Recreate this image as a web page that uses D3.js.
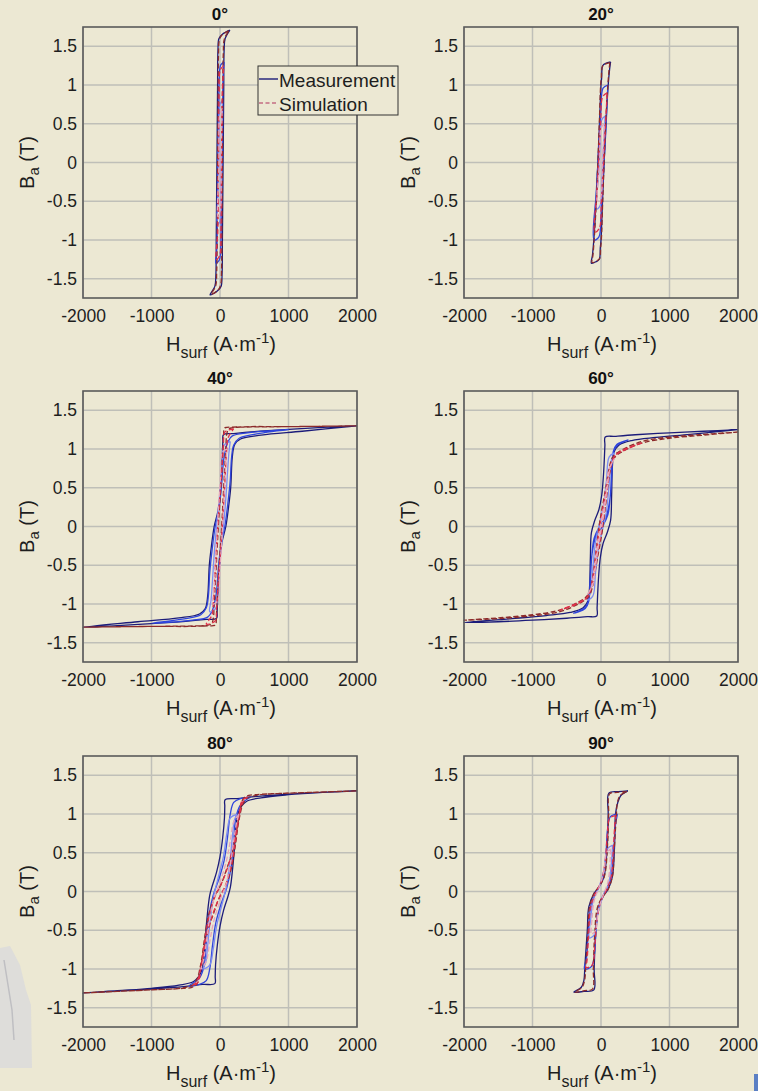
<!DOCTYPE html>
<html>
<head>
<meta charset="utf-8">
<script src="https://cdn.jsdelivr.net/npm/d3@7"></script>
<style>
  html, body { margin: 0; padding: 0; background: #ece8d3; }
  svg { display: block; font-family: "Liberation Sans", Arial, sans-serif; }
</style>
</head>
<body>
<svg id="fig" width="758" height="1091"></svg>
<script>
// ---- panel titles, axis ticks and domains ----
const angles = ["0°", "20°", "40°", "60°", "80°", "90°"];
const xTicks = [-2000, -1000, 0, 1000, 2000];
const yTicks = [-1.5, -1, -0.5, 0, 0.5, 1, 1.5];
const hDomain = [-2000, 2000];
const bDomain = [-1.75, 1.75];
const legendLabels = ["Measurement", "Simulation"];

// ---- hysteresis loops, [H (A/m), B (T)], each loop closed ----
// 0°
const meas0 = [
  [[145,1.71],[40,1.66],[-15,1.60],[-30,1.45],[-35,1.0],[-40,0.5],[-45,0],[-50,-0.5],[-55,-1.0],[-60,-1.45],[-75,-1.60],[-145,-1.71],
   [-40,-1.66],[15,-1.60],[30,-1.45],[35,-1.0],[40,-0.5],[45,0],[50,0.5],[55,1.0],[60,1.45],[75,1.60],[145,1.71]],
  [[60,1.30],[10,1.26],[-10,1.1],[-20,0.5],[-30,0],[-38,-0.5],[-45,-1.1],[-60,-1.30],
   [-10,-1.26],[10,-1.1],[20,-0.5],[30,0],[38,0.5],[45,1.1],[60,1.30]],
  [[35,0.80],[0,0.75],[-15,0.3],[-22,-0.3],[-35,-0.80],[0,-0.75],[15,-0.3],[22,0.3],[35,0.80]]
];
const sim0 = [
  [[130,1.70],[30,1.65],[-10,1.58],[-22,1.4],[-28,0.8],[-34,0],[-40,-0.8],[-48,-1.4],[-65,-1.6],[-130,-1.70],
   [-30,-1.65],[10,-1.58],[22,-1.4],[28,-0.8],[34,0],[40,0.8],[48,1.4],[65,1.6],[130,1.70]],
  [[55,1.25],[5,1.2],[-12,0.9],[-22,0],[-32,-0.9],[-55,-1.25],[-5,-1.2],[12,-0.9],[22,0],[32,0.9],[55,1.25]],
  [[30,0.7],[-5,0.6],[-15,0],[-30,-0.7],[5,-0.6],[15,0],[30,0.7]]
];
// 20°
const meas20 = [
  [[140,1.30],[70,1.28],[25,1.25],[10,1.1],[0,1.0],[-22,0.5],[-45,0],[-72,-0.5],[-105,-1.0],[-125,-1.2],[-140,-1.30],
   [-70,-1.28],[-25,-1.25],[-10,-1.1],[0,-1.0],[22,-0.5],[45,0],[72,0.5],[105,1.0],[125,1.2],[140,1.30]],
  [[100,1.0],[30,0.96],[0,0.7],[-25,0.3],[-45,0],[-70,-0.4],[-100,-1.0],
   [-30,-0.96],[0,-0.7],[25,-0.3],[45,0],[70,0.4],[100,1.0]],
  [[60,0.6],[10,0.55],[-15,0.2],[-30,-0.1],[-60,-0.6],[-10,-0.55],[15,-0.2],[30,0.1],[60,0.6]]
];
const sim20 = [
  [[130,1.29],[60,1.27],[20,1.24],[5,1.1],[-5,1.0],[-25,0.5],[-45,0],[-68,-0.5],[-100,-1.0],[-118,-1.2],[-130,-1.29],
   [-60,-1.27],[-20,-1.24],[-5,-1.1],[5,-1.0],[25,-0.5],[45,0],[68,0.5],[100,1.0],[118,1.2],[130,1.29]],
  [[90,0.9],[25,0.85],[-5,0.5],[-35,0],[-60,-0.4],[-90,-0.9],[-25,-0.85],[5,-0.5],[35,0],[60,0.4],[90,0.9]],
  [[50,0.5],[5,0.45],[-20,0],[-50,-0.5],[-5,-0.45],[20,0],[50,0.5]]
];
// 40°
const meas40 = [
  [[2000,1.30],[1500,1.28],[1000,1.255],[500,1.225],[200,1.20],[50,1.185],[42,1.10],[32,0.9],[10,0.5],[-30,0.2],[-85,0],[-125,-0.25],[-156,-0.5],[-180,-0.9],[-215,-1.06],[-300,-1.13],[-600,-1.18],[-1200,-1.23],[-2000,-1.30],
   [-1500,-1.28],[-1000,-1.255],[-500,-1.225],[-200,-1.20],[-50,-1.185],[-42,-1.10],[-32,-0.9],[-10,-0.5],[30,-0.2],[85,0],[125,0.25],[156,0.5],[180,0.9],[215,1.06],[300,1.13],[600,1.18],[1200,1.23],[2000,1.30]],
  [[1000,1.25],[400,1.21],[180,1.17],[120,1.1],[60,0.9],[20,0.5],[-20,0.2],[-70,0],[-115,-0.3],[-150,-0.6],[-170,-0.9],[-200,-1.05],[-280,-1.14],[-500,-1.19],[-1000,-1.25],
   [-400,-1.21],[-180,-1.17],[-120,-1.1],[-60,-0.9],[-20,-0.5],[20,-0.2],[70,0],[115,0.3],[150,0.6],[170,0.9],[200,1.05],[280,1.14],[500,1.19],[1000,1.25]],
  [[150,1.1],[60,1.05],[30,0.8],[0,0.45],[-40,0.1],[-80,-0.3],[-110,-0.7],[-130,-0.95],[-150,-1.1],
   [-60,-1.05],[-30,-0.8],[0,-0.45],[40,-0.1],[80,0.3],[110,0.7],[130,0.95],[150,1.1]]
];
const sim40 = [
  [[2000,1.30],[1000,1.29],[400,1.285],[100,1.28],[65,1.27],[52,1.15],[38,0.9],[12,0.5],[-18,0.1],[-42,-0.3],[-66,-0.7],[-85,-1.0],[-100,-1.2],[-130,-1.26],[-300,-1.285],[-1000,-1.29],[-2000,-1.30],
   [-1000,-1.29],[-400,-1.285],[-100,-1.28],[-65,-1.27],[-52,-1.15],[-38,-0.9],[-12,-0.5],[18,-0.1],[42,0.3],[66,0.7],[85,1.0],[100,1.2],[130,1.26],[300,1.285],[1000,1.29],[2000,1.30]],
  [[200,1.26],[70,1.22],[50,1.05],[25,0.7],[-10,0.3],[-40,-0.1],[-70,-0.55],[-95,-0.95],[-120,-1.15],[-200,-1.26],
   [-70,-1.22],[-50,-1.05],[-25,-0.7],[10,-0.3],[40,0.1],[70,0.55],[95,0.95],[120,1.15],[200,1.26]],
  [[100,1.0],[30,0.95],[5,0.6],[-25,0.2],[-55,-0.3],[-80,-0.75],[-100,-1.0],
   [-30,-0.95],[-5,-0.6],[25,-0.2],[55,0.3],[80,0.75],[100,1.0]]
];
// 60°
const meas60 = [
  [[2000,1.25],[1500,1.23],[1000,1.21],[500,1.185],[200,1.165],[62,1.155],[57,1.05],[50,0.9],[35,0.65],[10,0.4],[-30,0.22],[-90,0.08],[-140,-0.08],[-155,-0.4],[-168,-0.8],[-190,-0.96],[-260,-1.05],[-450,-1.11],[-800,-1.15],[-1300,-1.19],[-2000,-1.24],
   [-1500,-1.23],[-1000,-1.21],[-500,-1.185],[-200,-1.165],[-62,-1.155],[-57,-1.05],[-50,-0.9],[-35,-0.65],[-10,-0.4],[30,-0.22],[90,-0.08],[140,0.08],[155,0.4],[168,0.8],[190,0.96],[260,1.05],[450,1.11],[800,1.15],[1300,1.19],[2000,1.25]],
  [[400,1.12],[230,1.06],[180,0.97],[160,0.7],[130,0.35],[70,0.12],[-20,0.0],[-100,-0.15],[-140,-0.45],[-160,-0.8],[-190,-0.98],[-250,-1.06],[-400,-1.12],
   [-230,-1.06],[-180,-0.97],[-160,-0.7],[-130,-0.35],[-70,-0.12],[20,0.0],[100,0.15],[140,0.45],[160,0.8],[190,0.98],[250,1.06],[400,1.12]],
  [[200,0.95],[120,0.9],[80,0.6],[40,0.3],[-20,0.05],[-80,-0.2],[-120,-0.55],[-150,-0.85],[-200,-0.95],
   [-120,-0.9],[-80,-0.6],[-40,-0.3],[20,-0.05],[80,0.2],[120,0.55],[150,0.85],[200,0.95]]
];
const sim60 = [
  [[2000,1.22],[1500,1.19],[1000,1.155],[700,1.12],[500,1.07],[350,1.01],[250,0.96],[180,0.91],[130,0.8],[80,0.55],[30,0.3],[-20,0.05],[-70,-0.3],[-120,-0.65],[-170,-0.85],[-230,-0.92],[-320,-0.97],[-450,-1.03],[-650,-1.09],[-1000,-1.14],[-1500,-1.18],[-2000,-1.21],
   [-1500,-1.19],[-1000,-1.155],[-700,-1.12],[-500,-1.07],[-350,-1.01],[-250,-0.96],[-180,-0.91],[-130,-0.8],[-80,-0.55],[-30,-0.3],[20,-0.05],[70,0.3],[120,0.65],[170,0.85],[230,0.92],[320,0.97],[450,1.03],[650,1.09],[1000,1.14],[1500,1.18],[2000,1.22]],
  [[600,1.08],[350,1.0],[220,0.93],[150,0.82],[100,0.6],[50,0.35],[0,0.1],[-50,-0.2],[-100,-0.55],[-150,-0.8],[-210,-0.92],[-350,-0.99],[-600,-1.08],
   [-350,-1.0],[-220,-0.93],[-150,-0.82],[-100,-0.6],[-50,-0.35],[0,-0.1],[50,0.2],[100,0.55],[150,0.8],[210,0.92],[350,0.99],[600,1.08]],
  [[200,0.88],[120,0.75],[70,0.45],[20,0.15],[-40,-0.15],[-90,-0.5],[-140,-0.78],[-200,-0.88],
   [-120,-0.75],[-70,-0.45],[-20,-0.15],[40,0.15],[90,0.5],[140,0.78],[200,0.88]]
];
// 80°
const meas80 = [
  [[2000,1.30],[1500,1.28],[1000,1.257],[500,1.225],[250,1.20],[75,1.185],[70,1.1],[65,0.95],[40,0.7],[0,0.45],[-50,0.25],[-110,0.08],[-150,-0.05],[-185,-0.3],[-215,-0.6],[-240,-0.9],[-280,-1.05],[-380,-1.16],[-600,-1.21],[-1000,-1.25],[-1500,-1.28],[-2000,-1.31],
   [-1500,-1.285],[-1000,-1.26],[-500,-1.225],[-250,-1.20],[-75,-1.19],[-70,-1.1],[-65,-0.95],[-40,-0.7],[0,-0.45],[50,-0.25],[110,-0.08],[150,0.05],[185,0.3],[215,0.6],[240,0.9],[280,1.05],[380,1.16],[600,1.21],[1000,1.25],[1500,1.28],[2000,1.30]],
  [[450,1.22],[300,1.2],[200,1.15],[150,1.0],[110,0.7],[60,0.4],[-20,0.15],[-100,-0.05],[-160,-0.3],[-200,-0.65],[-230,-0.95],[-300,-1.12],[-450,-1.22],
   [-300,-1.2],[-200,-1.15],[-150,-1.0],[-110,-0.7],[-60,-0.4],[20,-0.15],[100,0.05],[160,0.3],[200,0.65],[230,0.95],[300,1.12],[450,1.22]],
  [[250,1.0],[150,0.95],[100,0.75],[50,0.45],[-20,0.2],[-90,-0.05],[-140,-0.35],[-180,-0.7],[-210,-0.92],[-250,-1.0],
   [-150,-0.95],[-100,-0.75],[-50,-0.45],[20,-0.2],[90,0.05],[140,0.35],[180,0.7],[210,0.92],[250,1.0]]
];
const sim80 = [
  [[2000,1.30],[1500,1.285],[1000,1.27],[600,1.255],[420,1.24],[340,1.2],[305,1.1],[275,0.95],[230,0.72],[170,0.47],[100,0.3],[20,0.1],[-70,-0.05],[-160,-0.28],[-225,-0.6],[-265,-0.86],[-295,-1.0],[-330,-1.12],[-390,-1.2],[-550,-1.245],[-1000,-1.27],[-1500,-1.29],[-2000,-1.31],
   [-1500,-1.29],[-1000,-1.27],[-600,-1.255],[-420,-1.24],[-340,-1.2],[-305,-1.1],[-275,-0.95],[-230,-0.72],[-170,-0.47],[-100,-0.3],[-20,-0.1],[70,0.05],[160,0.28],[225,0.6],[265,0.86],[295,1.0],[330,1.12],[390,1.2],[550,1.245],[1000,1.27],[1500,1.285],[2000,1.30]],
  [[400,1.22],[320,1.17],[280,1.0],[230,0.75],[170,0.5],[100,0.28],[10,0.08],[-80,-0.08],[-160,-0.32],[-220,-0.62],[-260,-0.88],[-290,-1.02],[-330,-1.15],[-400,-1.22],
   [-320,-1.17],[-280,-1.0],[-230,-0.75],[-170,-0.5],[-100,-0.28],[-10,-0.08],[80,0.08],[160,0.32],[220,0.62],[260,0.88],[290,1.02],[330,1.15],[400,1.22]],
  [[280,1.0],[200,0.9],[150,0.65],[90,0.38],[0,0.12],[-90,-0.1],[-160,-0.4],[-210,-0.72],[-250,-0.92],[-280,-1.0],
   [-200,-0.9],[-150,-0.65],[-90,-0.38],[0,-0.12],[90,0.1],[160,0.4],[210,0.72],[250,0.92],[280,1.0]]
];
// 90°
const meas90 = [
  [[392,1.30],[250,1.29],[115,1.27],[105,1.0],[90,0.57],[40,0.18],[-40,0.05],[-105,-0.03],[-178,-0.2],[-200,-0.5],[-236,-0.97],[-250,-1.15],[-290,-1.24],[-397,-1.30],
   [-250,-1.29],[-105,-1.27],[-100,-1.0],[-80,-0.59],[-32,-0.2],[40,-0.05],[90,0.01],[163,0.18],[197,0.57],[212,1.0],[245,1.15],[290,1.24],[392,1.30]],
  [[240,1.0],[140,0.97],[95,0.8],[70,0.45],[20,0.15],[-60,0.0],[-140,-0.15],[-180,-0.45],[-210,-0.85],[-240,-1.0],
   [-140,-0.97],[-95,-0.8],[-70,-0.45],[-20,-0.15],[60,0.0],[140,0.15],[180,0.45],[210,0.85],[240,1.0]],
  [[170,0.6],[90,0.55],[50,0.3],[-20,0.08],[-110,-0.1],[-150,-0.35],[-170,-0.6],
   [-90,-0.55],[-50,-0.3],[20,-0.08],[110,0.1],[150,0.35],[170,0.6]]
];
const sim90 = [
  [[380,1.29],[240,1.28],[125,1.26],[112,1.0],[95,0.6],[50,0.2],[-30,0.06],[-100,-0.02],[-168,-0.2],[-190,-0.5],[-222,-0.95],[-240,-1.15],[-280,-1.24],[-385,-1.30],
   [-240,-1.28],[-125,-1.26],[-112,-1.0],[-95,-0.6],[-50,-0.2],[30,-0.06],[100,0.02],[168,0.2],[190,0.5],[222,0.95],[240,1.15],[280,1.24],[380,1.29]],
  [[220,0.98],[130,0.95],[90,0.7],[60,0.38],[0,0.12],[-80,-0.02],[-150,-0.2],[-180,-0.55],[-205,-0.9],[-220,-0.98],
   [-130,-0.95],[-90,-0.7],[-60,-0.38],[0,-0.12],[80,0.02],[150,0.2],[180,0.55],[205,0.9],[220,0.98]],
  [[140,0.55],[80,0.5],[40,0.25],[-30,0.05],[-100,-0.12],[-130,-0.35],[-140,-0.55],
   [-80,-0.5],[-40,-0.25],[30,-0.05],[100,0.12],[130,0.35],[140,0.55]]
];

const measByPanel = [meas0, meas20, meas40, meas60, meas80, meas90];
const simByPanel  = [sim0, sim20, sim40, sim60, sim80, sim90];

// ---- styling ----
const bg = "#ece8d3";
const measColors = ["#1c1c7a", "#2f45dc", "#7d8cf2"];
const simColors  = ["#8c2b2b", "#e0304a", "#e6a6ba"];
const gridColor = "#bfbfb8";
const boxColor = "#5a5a5a";
const textColor = "#1e1e1e";

const W = 758, H = 1091;
const colX = [83, 464], rowY = [27, 391, 756];
const pw = 274, ph = 271;

const svg = d3.select("#fig");
svg.append("rect").attr("width", W).attr("height", H).attr("fill", bg);

const x = d3.scaleLinear().domain(hDomain).range([0, pw]);
const y = d3.scaleLinear().domain(bDomain).range([ph, 0]);
const line = d3.line()
  .x(d => x(d[0]))
  .y(d => y(d[1]))
  .curve(d3.curveCatmullRom.alpha(0.5));

angles.forEach((title, i) => {
  const g = svg.append("g")
    .attr("transform", `translate(${colX[i % 2]},${rowY[Math.floor(i / 2)]})`);

  // grid
  const grid = g.append("g").attr("stroke", gridColor).attr("stroke-width", 1.5);
  grid.selectAll(".gx").data(xTicks).join("line")
    .attr("x1", d => x(d)).attr("x2", d => x(d)).attr("y1", 0).attr("y2", ph);
  grid.selectAll(".gy").data(yTicks).join("line")
    .attr("x1", 0).attr("x2", pw).attr("y1", d => y(d)).attr("y2", d => y(d));

  // measured loops (solid) then simulated loops (dashed)
  g.append("g").selectAll("path").data(measByPanel[i]).join("path")
    .attr("d", line).attr("fill", "none")
    .attr("stroke", (d, k) => measColors[k]).attr("stroke-width", 1.3)
    .attr("stroke-linejoin", "round");
  g.append("g").selectAll("path").data(simByPanel[i]).join("path")
    .attr("d", line).attr("fill", "none")
    .attr("stroke", (d, k) => simColors[k]).attr("stroke-width", 1.3)
    .attr("stroke-dasharray", "5,2.5");

  // axes box
  g.append("rect").attr("width", pw).attr("height", ph)
    .attr("fill", "none").attr("stroke", boxColor).attr("stroke-width", 1.6);

  // tick labels
  const ax = g.append("g").attr("transform", `translate(0,${ph})`)
    .call(d3.axisBottom(x).tickValues(xTicks).tickFormat(d => String(d)).tickSize(0));
  ax.select(".domain").remove();
  ax.attr("font-family", null).attr("font-size", 17.5);
  ax.selectAll("text").attr("y", 24).attr("dy", null).attr("fill", textColor);

  const ay = g.append("g")
    .call(d3.axisLeft(y).tickValues(yTicks).tickFormat(d => String(d)).tickSize(0));
  ay.select(".domain").remove();
  ay.attr("font-family", null).attr("font-size", 17.5);
  ay.selectAll("text").attr("x", -6).attr("fill", textColor);

  // title
  g.append("text").attr("x", pw / 2).attr("y", -7.5)
    .attr("text-anchor", "middle").attr("font-weight", "bold")
    .attr("font-size", 17).attr("fill", "#111").text(title);

  // x label: H_surf (A·m^-1)
  const xl = g.append("text").attr("x", pw / 2 + 1).attr("y", ph + 53)
    .attr("text-anchor", "middle").attr("font-size", 20).attr("fill", textColor);
  xl.append("tspan").text("H");
  xl.append("tspan").attr("font-size", 16).attr("dy", 7).text("surf");
  xl.append("tspan").attr("dy", -7).text(" (A·m");
  xl.append("tspan").attr("font-size", 15).attr("dy", -8).text("-1");
  xl.append("tspan").attr("dy", 8).text(")");

  // y label: B_a (T)
  const yl = g.append("text")
    .attr("transform", `translate(-49,${ph / 2}) rotate(-90)`)
    .attr("text-anchor", "middle").attr("font-size", 20).attr("fill", textColor);
  yl.append("tspan").text("B");
  yl.append("tspan").attr("font-size", 15).attr("dy", 5).text("a");
  yl.append("tspan").attr("dy", -5).text(" (T)");

  // legend on the first panel
  if (i === 0) {
    const lg = g.append("g").attr("transform", "translate(175,39)");
    lg.append("rect").attr("width", 140).attr("height", 49)
      .attr("fill", bg).attr("stroke", "#333").attr("stroke-width", 1);
    const rows = [
      { label: legendLabels[0], color: "#2a2a7e", dash: null, cy: 13 },
      { label: legendLabels[1], color: "#c46c84", dash: "4,2.5", cy: 37 }
    ];
    rows.forEach(r => {
      lg.append("line").attr("x1", 1).attr("x2", 20).attr("y1", r.cy).attr("y2", r.cy)
        .attr("stroke", r.color).attr("stroke-width", 1.5).attr("stroke-dasharray", r.dash);
      lg.append("text").attr("x", 21).attr("y", r.cy + 7.5)
        .attr("font-size", 19).attr("fill", textColor).text(r.label);
    });
  }
});

// page edge fragments
svg.append("rect").attr("x", 754).attr("y", 1074).attr("width", 4).attr("height", 17).attr("fill", "#5b7fc4");
const frag = svg.append("g").attr("fill", "#dcdcdc").attr("opacity", 0.85);
frag.append("path").attr("d", "M0,948 L10,946 L20,965 L26,990 L31,1005 L32,1068 L0,1068 Z");
frag.append("path").attr("d", "M4,960 L8,985 L12,1010 L14,1040").attr("fill", "none").attr("stroke", "#b8b8c0").attr("stroke-width", 1.5);
</script>
</body>
</html>
